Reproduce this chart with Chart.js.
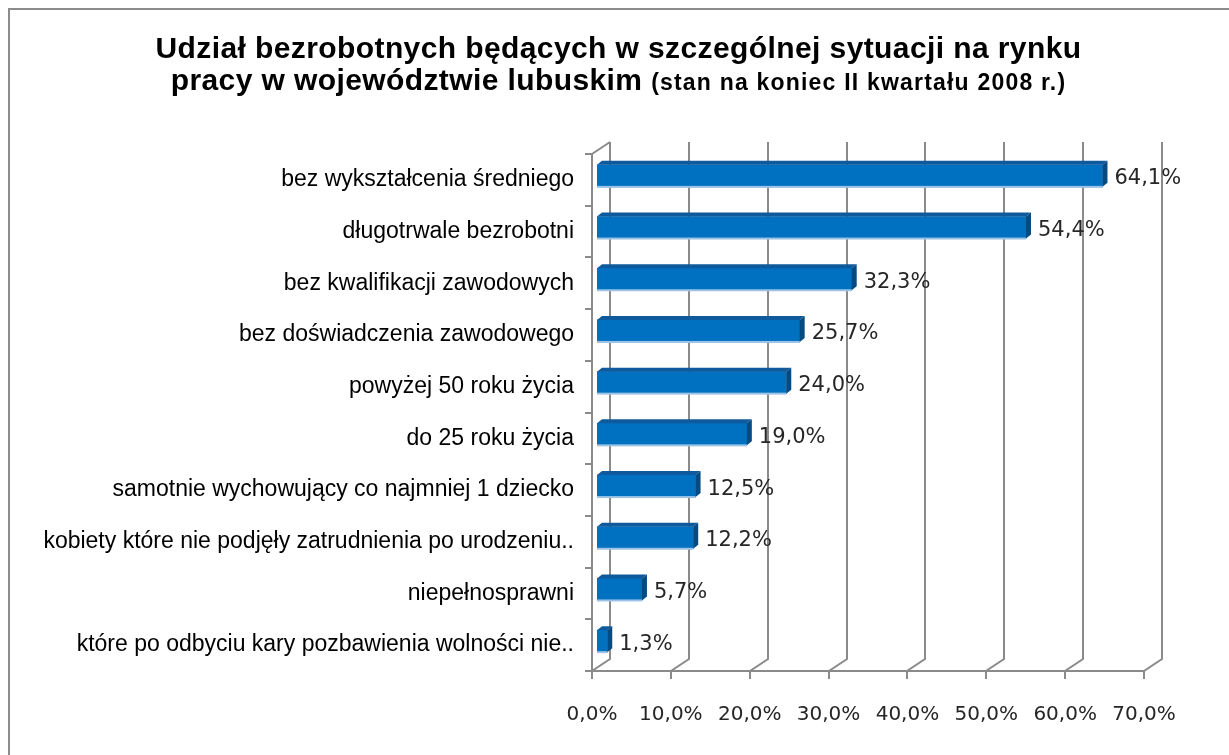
<!DOCTYPE html>
<html>
<head>
<meta charset="utf-8">
<script src="https://cdn.jsdelivr.net/npm/chart.js@4/dist/chart.umd.min.js"></script>
<style>
  html, body { margin:0; padding:0; background:#fff; }
  #wrap { position:relative; width:1229px; height:755px; overflow:hidden; }
  #frame { position:absolute; left:8px; top:8px; width:1240px; height:800px; border:2px solid #8c8c8c; box-sizing:border-box; }
  canvas { position:absolute; left:0; top:0; }
  .t { position:absolute; left:0; width:1237px; text-align:center; font-family:"Liberation Sans", Arial, sans-serif; font-weight:bold; color:#000; white-space:nowrap; }
  #t1 { top:30px; font-size:30px; line-height:36px; letter-spacing:0.4px; }
  #t2 { top:62px; font-size:30px; line-height:36px; letter-spacing:0.4px; }
  #t2 small { font-size:23px; letter-spacing:1.2px; }
</style>
</head>
<body>
<div id="wrap">
  <div id="frame"></div>
  <canvas id="c" width="1229" height="755"></canvas>
  <div class="t" id="t1">Udział bezrobotnych będących w szczególnej sytuacji na rynku</div>
  <div class="t" id="t2">pracy w województwie lubuskim <small>(stan na koniec II kwartału 2008 r.)</small></div>
</div>
<script>
const categories = [
  "bez wykształcenia średniego",
  "długotrwale bezrobotni",
  "bez kwalifikacji zawodowych",
  "bez doświadczenia zawodowego",
  "powyżej 50 roku życia",
  "do 25 roku życia",
  "samotnie wychowujący co najmniej 1 dziecko",
  "kobiety które nie podjęły zatrudnienia po urodzeniu..",
  "niepełnosprawni",
  "które po odbyciu kary pozbawienia wolności nie.."
];
const values = [64.1, 54.4, 32.3, 25.7, 24.0, 19.0, 12.5, 12.2, 5.7, 1.3];
const tickValues = [0, 10, 20, 30, 40, 50, 60, 70];

const fmt = v => v.toFixed(1).replace('.', ',') + '%';

const DEPTH_X = 18, DEPTH_Y = 12;     // wall depth
const BAR_OX = 5, BAR_OY = -4;        // bar front offset from front plane
const BAR_DX = 5, BAR_DY = 4;         // bar depth

const threeD = {
  id: 'threeD',
  beforeDatasetsDraw(chart) {
    const ctx = chart.ctx, xs = chart.scales.x;
    const a = chart.chartArea;
    ctx.save();
    ctx.strokeStyle = '#8a8a8a';
    ctx.lineWidth = 2;
    ctx.lineCap = 'butt';
    tickValues.forEach(v => {
      const x = Math.round(xs.getPixelForValue(v));
      ctx.beginPath();
      ctx.moveTo(x + DEPTH_X, a.top - DEPTH_Y);
      ctx.lineTo(x + DEPTH_X, a.bottom - DEPTH_Y);
      ctx.lineTo(x, a.bottom);
      ctx.lineTo(x, a.bottom + 8);
      ctx.stroke();
    });
    ctx.beginPath();
    ctx.moveTo(a.left - 1, a.bottom);
    ctx.lineTo(Math.round(xs.getPixelForValue(70)), a.bottom);
    ctx.stroke();
    const lx = Math.round(xs.getPixelForValue(0));
    ctx.beginPath();
    ctx.moveTo(lx + DEPTH_X, a.top - DEPTH_Y);
    ctx.lineTo(lx, a.top);
    ctx.lineTo(lx, a.bottom);
    ctx.stroke();
    const n = categories.length;
    const step = (a.bottom - a.top) / n;
    for (let i = 0; i <= n; i++) {
      const y = Math.round(a.top + i * step);
      ctx.beginPath();
      ctx.moveTo(lx - 7, y);
      ctx.lineTo(lx, y);
      ctx.stroke();
    }
    ctx.restore();
    ctx.save();
    ctx.translate(BAR_OX, BAR_OY);
  },
  afterDatasetsDraw(chart) {
    const ctx = chart.ctx;
    ctx.restore();
    const meta = chart.getDatasetMeta(0);
    ctx.save();
    ctx.translate(BAR_OX, BAR_OY);
    meta.data.forEach((el, i) => {
      const p = el.getProps(['x', 'y', 'base', 'height'], true);
      const x0 = p.base, x1 = p.x, yt = p.y - p.height / 2, yb = p.y + p.height / 2;
      ctx.fillStyle = '#0f5a9c';
      ctx.beginPath();
      ctx.moveTo(x0, yt);
      ctx.lineTo(x0 + BAR_DX, yt - BAR_DY);
      ctx.lineTo(x1 + BAR_DX, yt - BAR_DY);
      ctx.lineTo(x1, yt);
      ctx.closePath();
      ctx.fill();
      ctx.fillStyle = '#064a82';
      ctx.beginPath();
      ctx.moveTo(x1, yt);
      ctx.lineTo(x1 + BAR_DX, yt - BAR_DY);
      ctx.lineTo(x1 + BAR_DX, yb - BAR_DY);
      ctx.lineTo(x1, yb);
      ctx.closePath();
      ctx.fill();
      ctx.fillStyle = '#9cc3e6';
      ctx.fillRect(x0, yb - 1, x1 - x0, 2);
      ctx.fillStyle = '#262626';
      ctx.font = '21px "DejaVu Sans"';
      ctx.textAlign = 'left';
      ctx.textBaseline = 'middle';
      ctx.fillText(fmt(values[i]), x1 + BAR_DX + 7, p.y + 3);
    });
    ctx.restore();
  }
};

new Chart(document.getElementById('c'), {
  type: 'bar',
  data: {
    labels: categories,
    datasets: [{
      data: values,
      backgroundColor: '#0070c0',
      borderWidth: 0,
      barThickness: 22
    }]
  },
  options: {
    indexAxis: 'y',
    responsive: false,
    animation: false,
    events: [],
    layout: { padding: { left: 0, right: 85, top: 154, bottom: 24 } },
    plugins: { legend: { display: false }, title: { display: false }, tooltip: { enabled: false } },
    scales: {
      x: {
        min: 0, max: 70,
        afterFit(s) { s.height = 60; },
        afterBuildTicks(s) { s.ticks = tickValues.map(v => ({ value: v })); },
        border: { display: false },
        grid: { display: false, drawTicks: false },
        ticks: {
          padding: 32,
          color: '#262626',
          font: { family: 'DejaVu Sans', size: 20 },
          callback: v => fmt(v)
        }
      },
      y: {
        afterFit(s) { s.width = 592; },
        border: { display: false },
        grid: { display: false, drawTicks: false },
        ticks: {
          padding: 18,
          color: '#000',
          font: { family: 'Liberation Sans', size: 23 }
        }
      }
    }
  },
  plugins: [threeD]
});
</script>
</body>
</html>
